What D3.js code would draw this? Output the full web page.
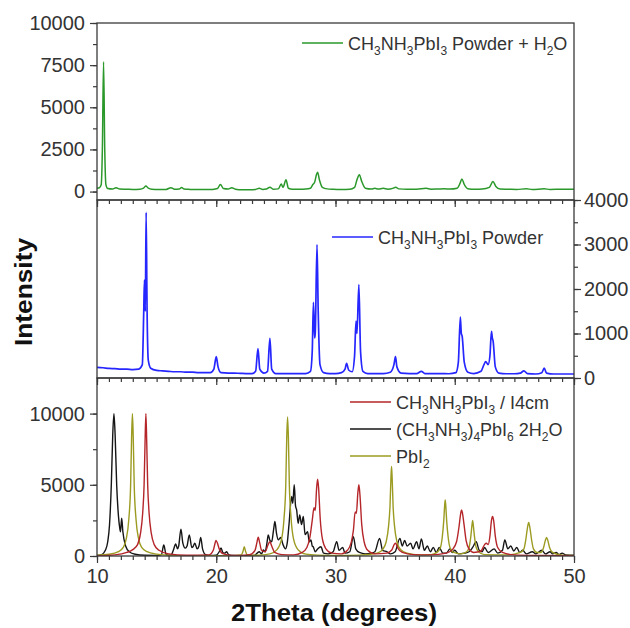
<!DOCTYPE html>
<html><head><meta charset="utf-8">
<script src="https://cdn.jsdelivr.net/npm/d3@7"></script>
<style>
body{margin:0;background:#fff;}
svg{display:block;font-family:"Liberation Sans",Arial,sans-serif;}
</style></head>
<body><div id="chart"></div>
<script>
// ---------- data (2Theta, intensity) ----------
const powderH2O = [[10.0,200],[10.2,230],[10.35,400],[10.45,2500],[10.55,7700],[10.65,2500],[10.75,400],[10.9,180],[11.3,150],[11.6,230],[11.9,150],[12.5,140],[13.0,130],[13.6,140],[13.9,200],[14.1,330],[14.3,200],[14.6,140],[15.2,130],[15.8,130],[16.2,230],[16.5,140],[16.9,150],[17.1,240],[17.3,150],[17.8,130],[18.5,120],[19.2,120],[19.7,130],[20.1,180],[20.35,420],[20.6,180],[21.0,150],[21.3,230],[21.6,140],[22.2,110],[22.8,110],[23.3,130],[23.6,190],[23.9,130],[24.2,150],[24.5,260],[24.8,140],[25.2,160],[25.45,450],[25.6,250],[25.85,700],[26.05,200],[26.4,140],[27.0,140],[27.5,150],[27.9,200],[28.1,420],[28.25,550],[28.4,1000],[28.5,1150],[28.65,700],[28.9,250],[29.3,160],[29.8,140],[30.5,130],[31.2,140],[31.6,250],[31.8,700],[32.0,1000],[32.2,600],[32.5,200],[33.0,150],[33.3,190],[33.6,150],[34.0,190],[34.4,140],[34.8,190],[35.05,260],[35.3,160],[36.0,140],[36.8,140],[37.6,190],[38.0,140],[38.6,150],[39.1,160],[39.6,150],[40.2,200],[40.45,500],[40.6,750],[40.8,420],[41.1,170],[41.7,140],[42.3,150],[42.9,250],[43.2,600],[43.45,300],[43.8,150],[44.5,140],[45.2,130],[46.0,160],[46.5,130],[47.5,160],[48.0,130],[49.0,140],[50.0,140]];

const powder = [[10.0,240],[10.5,230],[11.0,215],[11.5,210],[12.0,200],[12.5,200],[13.0,190],[13.5,200],[13.8,300],[13.92,1500],[13.98,2200],[14.05,1500],[14.12,3720],[14.2,1500],[14.3,400],[14.5,220],[15.0,170],[15.5,160],[16.0,150],[16.5,140],[17.0,140],[17.5,130],[18.0,130],[18.5,120],[19.0,120],[19.5,120],[19.8,200],[20.0,480],[20.15,250],[20.4,120],[21.0,110],[21.5,110],[22.0,105],[22.5,100],[23.0,100],[23.3,150],[23.5,660],[23.65,200],[24.0,110],[24.3,150],[24.5,890],[24.65,200],[25.0,100],[25.5,100],[26.0,100],[26.5,100],[27.0,100],[27.5,100],[27.9,150],[28.05,600],[28.15,1700],[28.25,900],[28.3,1000],[28.45,3000],[28.55,1500],[28.7,300],[29.0,120],[29.5,100],[30.0,100],[30.5,120],[30.8,200],[30.93,330],[31.1,180],[31.4,140],[31.6,500],[31.72,1280],[31.8,1000],[31.96,2100],[32.1,600],[32.3,150],[32.7,100],[33.5,100],[34.0,100],[34.6,130],[34.9,300],[35.03,480],[35.15,250],[35.5,110],[36.2,100],[36.8,100],[37.2,150],[37.5,100],[38.2,100],[38.8,100],[39.5,95],[40.1,120],[40.3,350],[40.47,1370],[40.55,1000],[40.62,940],[40.8,350],[41.1,130],[41.6,100],[42.2,150],[42.45,300],[42.6,370],[42.8,300],[42.95,500],[43.08,1050],[43.15,900],[43.22,825],[43.4,250],[43.7,110],[44.3,95],[45.0,95],[45.5,110],[45.8,160],[46.1,100],[46.8,90],[47.3,120],[47.5,220],[47.7,110],[48.3,90],[49.0,90],[50.0,90]];

const hydrate = [[10.0,30],[10.4,100],[10.7,400],[10.9,1000],[11.05,2200],[11.2,5000],[11.32,8500],[11.42,10000],[11.52,8500],[11.65,5000],[11.8,2800],[11.9,2000],[11.97,1700],[12.07,2650],[12.17,1700],[12.4,700],[12.7,300],[13.2,120],[14.0,50],[15.0,40],[15.4,100],[15.6,770],[15.8,100],[16.2,60],[16.4,400],[16.6,850],[16.75,500],[16.85,700],[17.04,1880],[17.2,900],[17.4,550],[17.55,700],[17.74,1480],[17.95,600],[18.05,650],[18.2,900],[18.4,500],[18.55,700],[18.7,1300],[18.85,500],[19.1,100],[19.5,30],[20.0,60],[20.25,300],[20.4,560],[20.55,250],[20.7,200],[20.87,300],[21.05,80],[21.5,30],[22.5,20],[23.2,40],[23.6,300],[23.8,150],[23.95,420],[24.1,300],[24.25,900],[24.36,1480],[24.5,1100],[24.65,1000],[24.8,1800],[24.92,2420],[25.05,1600],[25.2,1130],[25.4,1300],[25.6,800],[25.8,500],[25.95,900],[26.1,2200],[26.32,4180],[26.42,3700],[26.54,5000],[26.65,3500],[26.74,3240],[26.87,2300],[27.0,2890],[27.15,2200],[27.3,2770],[27.45,1500],[27.66,1710],[27.8,1000],[27.94,1130],[28.05,700],[28.13,650],[28.3,300],[28.5,500],[28.78,650],[29.0,200],[29.4,150],[29.8,300],[30.1,1000],[30.3,400],[30.6,600],[30.8,200],[31.2,300],[31.5,1360],[31.7,500],[32.0,250],[32.5,150],[33.0,200],[33.3,300],[33.7,1240],[33.95,400],[34.3,300],[34.6,150],[35.0,300],[35.4,1240],[35.6,700],[35.8,1100],[36.0,700],[36.3,900],[36.5,500],[36.8,1000],[37.0,500],[37.2,1200],[37.45,400],[37.7,700],[37.95,300],[38.2,600],[38.45,250],[38.7,600],[39.0,200],[39.3,200],[39.6,500],[39.8,250],[40.0,400],[40.3,150],[40.8,200],[41.2,300],[41.5,600],[41.8,1000],[42.05,400],[42.3,300],[42.5,600],[42.8,250],[43.3,500],[43.6,200],[44.0,400],[44.2,1130],[44.45,500],[44.7,700],[44.95,350],[45.2,600],[45.45,250],[45.7,400],[46.0,150],[46.5,300],[46.8,150],[47.3,400],[47.6,150],[48.0,300],[48.2,150],[48.5,250],[48.75,100],[49.0,200],[49.3,80],[50.0,50]];

const pbi2 = [[10.0,60],[11.0,120],[11.8,300],[12.2,600],[12.45,1200],[12.67,2600],[12.82,5000],[12.9,8300],[12.97,10000],[13.04,8300],[13.12,5000],[13.27,2600],[13.49,1200],[13.75,600],[14.2,300],[15.0,130],[16.0,60],[18.0,20],[21.0,20],[22.1,80],[22.25,350],[22.35,650],[22.45,350],[22.6,80],[23.5,50],[24.5,150],[25.1,450],[25.48,1200],[25.68,2600],[25.83,5000],[25.91,8300],[25.98,9770],[26.05,8300],[26.13,5000],[26.28,2600],[26.48,1200],[26.85,450],[27.5,130],[28.5,60],[30.0,40],[32.0,60],[33.5,200],[33.95,450],[34.25,1000],[34.45,2100],[34.57,3500],[34.65,5500],[34.7,6290],[34.75,5500],[34.83,3500],[34.95,2100],[35.15,1000],[35.45,450],[36.0,200],[37.0,80],[38.0,100],[38.5,250],[38.8,600],[38.95,1300],[39.08,2500],[39.15,3500],[39.2,3940],[39.25,3500],[39.32,2500],[39.45,1300],[39.6,600],[39.9,250],[40.5,150],[41.0,300],[41.2,600],[41.35,1400],[41.45,2200],[41.5,2490],[41.55,2200],[41.65,1400],[41.8,600],[42.0,300],[42.5,100],[44.5,80],[45.5,250],[45.8,500],[45.95,1100],[46.1,2000],[46.2,2350],[46.3,2000],[46.45,1100],[46.6,500],[46.9,250],[47.2,250],[47.45,600],[47.6,1100],[47.7,1310],[47.8,1100],[47.95,600],[48.2,250],[49.0,60],[50.0,30]];

const i4cm = [[10.0,20],[11.5,80],[12.5,250],[13.0,450],[13.4,800],[13.65,1600],[13.83,3000],[13.95,5000],[14.03,8000],[14.1,10000],[14.17,8000],[14.25,5000],[14.37,3000],[14.55,1600],[14.8,800],[15.2,400],[16.0,150],[17.5,50],[19.4,80],[19.75,400],[19.9,900],[19.98,1100],[20.1,900],[20.25,500],[20.6,150],[21.5,40],[22.8,100],[23.25,400],[23.4,900],[23.52,1320],[23.65,900],[23.8,400],[24.1,300],[24.35,800],[24.5,1000],[24.65,700],[24.9,250],[25.5,100],[26.5,80],[27.2,250],[27.6,600],[27.85,1300],[28.05,2500],[28.2,3400],[28.3,3200],[28.42,4800],[28.5,5400],[28.58,4800],[28.72,2600],[28.9,1200],[29.2,500],[29.7,200],[30.5,150],[31.0,400],[31.3,900],[31.5,1800],[31.65,3100],[31.75,3000],[31.88,4500],[31.96,5000],[32.05,4300],[32.2,2200],[32.4,1000],[32.7,400],[33.3,150],[34.3,200],[34.7,400],[34.95,850],[35.05,900],[35.2,600],[35.6,250],[36.5,100],[38.0,80],[39.3,200],[39.8,450],[40.15,1000],[40.35,2000],[40.5,3000],[40.57,3240],[40.65,3000],[40.78,2200],[40.95,1100],[41.2,500],[41.6,250],[42.2,350],[42.5,800],[42.65,900],[42.8,800],[42.95,1400],[43.08,2500],[43.17,2770],[43.26,2500],[43.4,1400],[43.6,600],[44.0,250],[45.0,80],[47.0,40],[50.0,20]];

const xMajorTicks = [10,20,30,40,50];
const topTicks = [0,2500,5000,7500,10000];
const midTicks = [0,1000,2000,3000,4000];
const botTicks = [0,5000,10000];

// ---------- layout ----------
const W = 630, H = 628;
const L = 97, R = 574;
const panels = {
  top: {y0: 23, y1: 200, dom: [-500, 10000]},
  mid: {y0: 200, y1: 378, dom: [0, 4000]},
  bot: {y0: 378, y1: 556, dom: [0, 12500]}
};
const axisColor = "#3a3a3a", textColor = "#333";

const svg = d3.select("#chart").append("svg").attr("width", W).attr("height", H);
const x = d3.scaleLinear().domain([10, 50]).range([L, R]);
const yTop = d3.scaleLinear().domain(panels.top.dom).range([panels.top.y1, panels.top.y0]);
const yMid = d3.scaleLinear().domain(panels.mid.dom).range([panels.mid.y1, panels.mid.y0]);
const yBot = d3.scaleLinear().domain(panels.bot.dom).range([panels.bot.y1, panels.bot.y0]);

const defs = svg.append("defs");
Object.entries(panels).forEach(([k, p]) => {
  defs.append("clipPath").attr("id", "clip-" + k).append("rect")
    .attr("x", L).attr("y", p.y0).attr("width", R - L).attr("height", p.y1 - p.y0);
});

function drawLine(data, yScale, color, clip, w) {
  const line = d3.line().x(d => x(d[0])).y(d => yScale(d[1])).curve(d3.curveMonotoneX);
  svg.append("path").datum(data).attr("d", line)
    .attr("fill", "none").attr("stroke", color).attr("stroke-width", w || 1.3)
    .attr("stroke-linejoin", "round").attr("clip-path", "url(#clip-" + clip + ")");
}

drawLine(powderH2O, yTop, "#2a982a", "top", 1.5);
drawLine(powder, yMid, "#2626ff", "mid", 1.7);
drawLine(hydrate, yBot, "#151515", "bot", 1.4);
drawLine(pbi2, yBot, "#9b9b22", "bot", 1.4);
drawLine(i4cm, yBot, "#b5262a", "bot", 1.4);

// ---------- frames ----------
Object.values(panels).forEach(p => {
  svg.append("rect").attr("x", L).attr("y", p.y0).attr("width", R - L).attr("height", p.y1 - p.y0)
    .attr("fill", "none").attr("stroke", axisColor).attr("stroke-width", 1.3);
});

function styleAxis(g) {
  g.select(".domain").remove();
  g.selectAll("text").filter(function() { return !this.textContent; }).remove();
  g.selectAll("line").attr("stroke", axisColor).attr("stroke-width", 1.2);
  g.selectAll("text").attr("fill", textColor).style("font-size", "20px")
    .style("font-family", '"Liberation Sans", Arial, sans-serif');
}

// x axes (ticks outward/down on each panel bottom)
[panels.top.y1, panels.mid.y1, panels.bot.y1].forEach((yy, i) => {
  const minor = svg.append("g").attr("transform", `translate(0,${yy})`)
    .call(d3.axisBottom(x).tickValues(d3.range(10, 51, 1)).tickSize(4).tickFormat(""));
  styleAxis(minor);
  const major = svg.append("g").attr("transform", `translate(0,${yy})`)
    .call(d3.axisBottom(x).tickValues(xMajorTicks).tickSize(7).tickPadding(6)
      .tickFormat(i === 2 ? d3.format("d") : ""));
  styleAxis(major);
});

// y axes
function yAxis(scale, ticks, minorStep, side) {
  const mk = side === "left" ? d3.axisLeft : d3.axisRight;
  const xpos = side === "left" ? L : R;
  const minorVals = d3.range(ticks[0], ticks[ticks.length - 1] + 1, minorStep);
  const g1 = svg.append("g").attr("transform", `translate(${xpos},0)`)
    .call(mk(scale).tickValues(minorVals).tickSize(4).tickFormat(""));
  styleAxis(g1);
  const g2 = svg.append("g").attr("transform", `translate(${xpos},0)`)
    .call(mk(scale).tickValues(ticks).tickSize(7).tickPadding(side === "left" ? 5 : 3).tickFormat(d3.format("d")));
  styleAxis(g2);
}
yAxis(yTop, topTicks, 1250, "left");
yAxis(yMid, midTicks, 500, "right");
yAxis(yBot, botTicks, 2500, "left");

// ---------- axis titles ----------
svg.append("text").attr("x", 334).attr("y", 621).attr("text-anchor", "middle")
  .attr("font-weight", "bold").style("font-size", "24px").attr("fill", "#111")
  .attr("textLength", 206).attr("lengthAdjust", "spacingAndGlyphs")
  .text("2Theta (degrees)");
svg.append("text").attr("transform", "translate(32,292) rotate(-90)").attr("text-anchor", "middle")
  .attr("font-weight", "bold").style("font-size", "23px").attr("fill", "#111")
  .attr("textLength", 108).attr("lengthAdjust", "spacingAndGlyphs")
  .text("Intensity");

// ---------- legends ----------
function legendEntry(x0, y, color, parts) {
  svg.append("line").attr("x1", x0).attr("x2", x0 + 41).attr("y1", y).attr("y2", y)
    .attr("stroke", color).attr("stroke-width", 1.5);
  const t = svg.append("text").attr("x", x0 + 46).attr("y", y + 7).attr("fill", textColor)
    .style("font-size", "18px");
  let shifted = false;
  parts.forEach(([s, sub]) => {
    const ts = t.append("tspan").text(s);
    if (sub) {
      ts.attr("dy", shifted ? 0 : 5).style("font-size", "12px");
      shifted = true;
    } else {
      if (shifted) ts.attr("dy", -5);
      shifted = false;
    }
  });
}
legendEntry(302, 43, "#2a982a", [["CH"],["3",1],["NH"],["3",1],["PbI"],["3",1],[" Powder + H"],["2",1],["O"]]);
legendEntry(332, 237, "#2626ff", [["CH"],["3",1],["NH"],["3",1],["PbI"],["3",1],[" Powder"]]);
legendEntry(350, 402, "#b5262a", [["CH"],["3",1],["NH"],["3",1],["PbI"],["3",1],[" / I4cm"]]);
legendEntry(350, 429, "#151515", [["(CH"],["3",1],["NH"],["3",1],[")"],["4",1],["PbI"],["6",1],[" 2H"],["2",1],["O"]]);
legendEntry(350, 456, "#9b9b22", [["PbI"],["2",1]]);
</script></body></html>
